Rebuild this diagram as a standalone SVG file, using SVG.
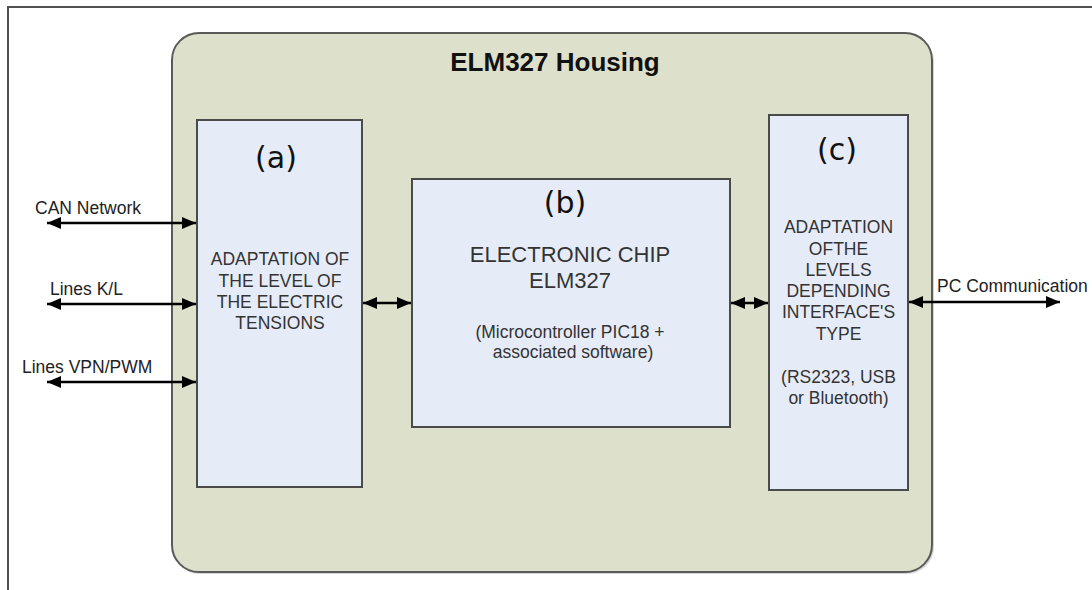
<svg xmlns="http://www.w3.org/2000/svg" width="1092" height="590" viewBox="0 0 1092 590">
<style>
  .frame{fill:none;stroke:#505050;stroke-width:2}
  .housing{fill:#DDE0CA;stroke:#5a5a5a;stroke-width:2}
  .box{fill:#E6ECF7;stroke:#4a4a4a;stroke-width:2}
  .shadow{fill:#9a9a9a;opacity:0.5}
  .t{font-family:"Liberation Sans",Arial,sans-serif;font-size:17.5px;fill:#333;text-anchor:middle}
  .lbl{font-family:"Liberation Sans",Arial,sans-serif;font-size:17.5px;fill:#222}
  .big{font-family:"Liberation Sans",Arial,sans-serif;font-size:22px;fill:#333;text-anchor:middle}
  .title{font-family:"Liberation Sans",Arial,sans-serif;font-size:26px;font-weight:bold;fill:#111;text-anchor:middle}
  .letter{font-family:"DejaVu Sans",Verdana,sans-serif;font-size:30px;fill:#111;text-anchor:middle}
  .conn{stroke:#000;stroke-width:2.5;fill:none;marker-start:url(#ah);marker-end:url(#ah)}
</style>
<defs>
  <marker id="ah" markerUnits="userSpaceOnUse" markerWidth="16" markerHeight="14" refX="14" refY="6" orient="auto-start-reverse">
    <path d="M0,0 L14,6 L0,12 z" fill="#000"/>
  </marker>
</defs>
<rect width="1092" height="590" fill="#fff"/>
<path class="frame" d="M8,590 L8,7 L1092,7"/>

<g id="housing">
  <rect x="173" y="35" width="761" height="539" rx="27" ry="27" fill="#b0b0b0" opacity="0.5"/>
  <rect class="housing" x="172" y="33" width="760" height="539" rx="27" ry="27"/>
  <text class="title" x="555" y="71">ELM327 Housing</text>
</g>

<g id="node-a">
  <rect class="box" x="197" y="120" width="165" height="367"/>
  <text class="letter" x="276" y="168">(a)</text>
  <text class="t" x="280" y="265">ADAPTATION OF</text>
  <text class="t" x="280" y="287">THE LEVEL OF</text>
  <text class="t" x="280" y="308">THE ELECTRIC</text>
  <text class="t" x="280" y="329">TENSIONS</text>
</g>

<g id="node-b">
  <rect class="box" x="412" y="179" width="318" height="248"/>
  <text class="letter" x="565" y="213">(b)</text>
  <text class="big" x="570" y="262">ELECTRONIC CHIP</text>
  <text class="big" x="570" y="288">ELM327</text>
  <text class="t" x="570" y="338">(Microcontroller PIC18 +</text>
  <text class="t" x="573" y="358">associated software)</text>
</g>

<g id="node-c">
  <rect class="box" x="769" y="115" width="139" height="375"/>
  <text class="letter" x="837" y="160">(c)</text>
  <text class="t" x="838.5" y="233">ADAPTATION</text>
  <text class="t" x="838.5" y="255">OFTHE</text>
  <text class="t" x="838.5" y="276">LEVELS</text>
  <text class="t" x="838.5" y="297">DEPENDING</text>
  <text class="t" x="838.5" y="318">INTERFACE'S</text>
  <text class="t" x="838.5" y="340">TYPE</text>
  <text class="t" x="838.5" y="383">(RS2323, USB</text>
  <text class="t" x="838.5" y="404">or Bluetooth)</text>
</g>

<g id="connectors">
  <line class="conn" x1="47" y1="223" x2="196" y2="223"/>
  <line class="conn" x1="47" y1="304" x2="196" y2="304"/>
  <line class="conn" x1="47" y1="382" x2="196" y2="382"/>
  <line class="conn" x1="363" y1="303" x2="411" y2="303"/>
  <line class="conn" x1="731" y1="303" x2="768" y2="303"/>
  <line class="conn" x1="909" y1="302" x2="1060" y2="302"/>
  <text class="lbl" x="35" y="214">CAN Network</text>
  <text class="lbl" x="50" y="295">Lines K/L</text>
  <text class="lbl" x="22" y="373">Lines VPN/PWM</text>
  <text class="lbl" x="937" y="292">PC Communication</text>
</g>
</svg>
